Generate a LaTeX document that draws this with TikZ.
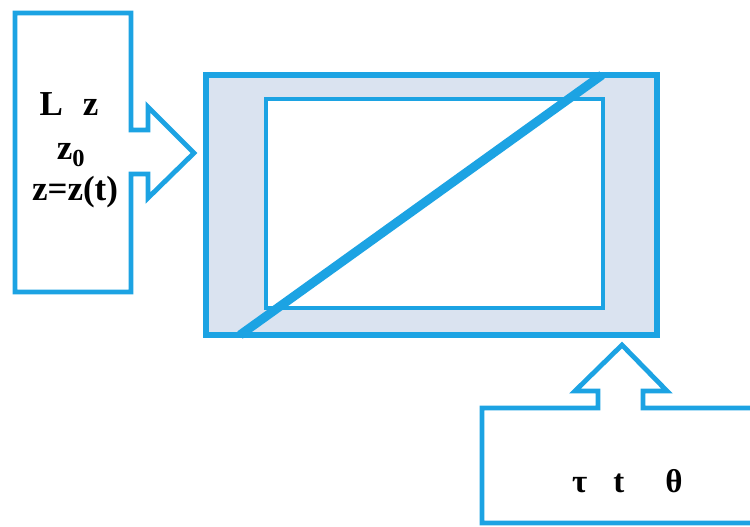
\documentclass[tikz,border=0pt]{standalone}
\usepackage{fontspec}
\setmainfont{Liberation Serif}
\definecolor{lineblue}{HTML}{1CA3E3}
\definecolor{panelfill}{HTML}{DAE3F0}
\tikzset{
  outline/.style={draw=lineblue, line width=4.8pt, line join=miter},
  label/.style={font=\fontsize{35}{40}\selectfont\bfseries, text=black, inner sep=0pt},
}
\begin{document}
\begin{tikzpicture}[x=1pt, y=-1pt]
  \useasboundingbox (0,0) rectangle (750,527);

  % main panel: shaded frame, inner window and the diagonal
  \coordinate (outerNW) at (206,75);
  \coordinate (outerSE) at (657,335);
  \coordinate (innerNW) at (266,99);
  \coordinate (innerSE) at (603,308);
  \coordinate (diagA) at (240,335);
  \coordinate (diagB) at (602,75);
  \fill[panelfill] (outerNW) rectangle (outerSE);
  \fill[white] (innerNW) rectangle (innerSE);
  \draw[outline, line width=4.5pt] (innerNW) rectangle (innerSE);
  \draw[outline, line width=5.5pt] (outerNW) rectangle (outerSE);
  \draw[lineblue, line width=9pt] (diagA) -- (diagB);

  % left callout with arrow pointing right
  \draw[outline, fill=white]
    (15,13) -- (131,13) -- (131,130) -- (148,130) -- (148,107) -- (194,153)
    -- (148,198) -- (148,174) -- (131,174) -- (131,292) -- (15,292) -- cycle;
  \node[label, anchor=base] (lz) at (69,115) {L\hspace{20pt}z};
  \node[label, anchor=base] (zzero) at (71,159) {z\textsubscript{0}};
  \node[label, anchor=base] (zt) at (75,200) {z=z(t)};

  % bottom callout with arrow pointing up
  \draw[outline, fill=white]
    (770,523) -- (482,523) -- (482,408) -- (598,408) -- (598,391) -- (575,391)
    -- (622,345) -- (667,391) -- (643,391) -- (643,408) -- (770,408);
  \node[label, font=\fontsize{33}{38}\selectfont\bfseries, anchor=base west]
    (params) at (572,492) {τ\hspace{26pt}t\hspace{41pt}θ};
\end{tikzpicture}
\end{document}
